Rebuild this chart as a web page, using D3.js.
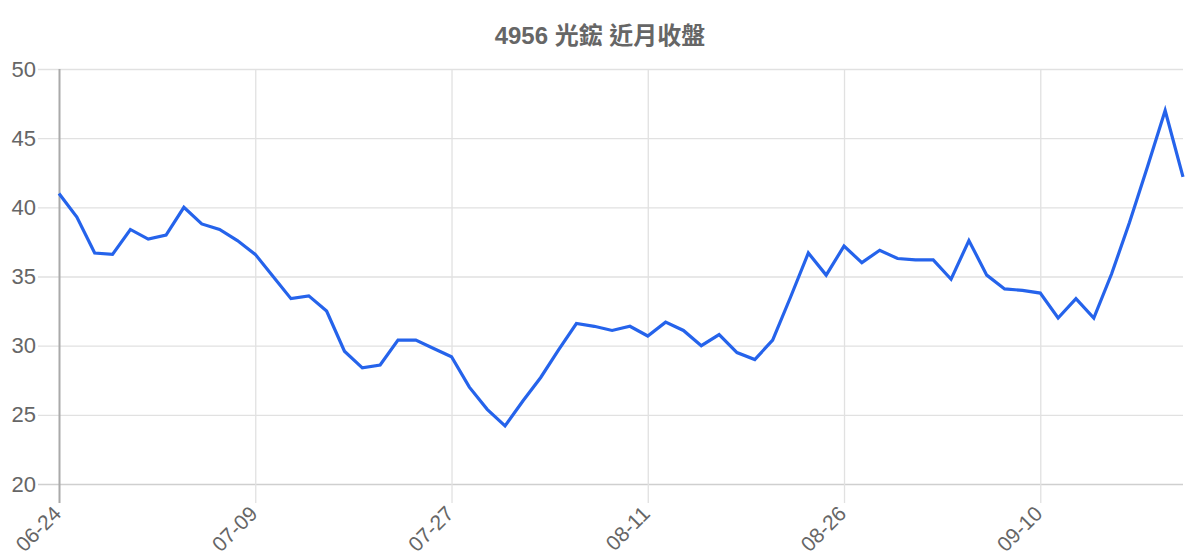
<!DOCTYPE html>
<html>
<head>
<meta charset="utf-8">
<script src="https://cdn.jsdelivr.net/npm/d3@7"></script>
<style>
  body { margin: 0; background: #fff; }
  svg text { font-family: "Liberation Sans", Arial, "Noto Sans CJK TC", sans-serif; fill: #666; }
</style>
</head>
<body>
<div id="chart"></div>
<script>
const width = 1200, height = 560;

// trading days (2021)
const dates = [
  "06-24","06-25","06-28","06-29","06-30","07-01","07-02","07-05","07-06","07-07","07-08",
  "07-09","07-13","07-14","07-15","07-16","07-19","07-20","07-21","07-22","07-23","07-26",
  "07-27","07-28","07-29","07-30","08-02","08-03","08-04","08-05","08-06","08-09","08-10",
  "08-11","08-12","08-13","08-16","08-17","08-18","08-19","08-20","08-23","08-24","08-25",
  "08-26","08-27","08-30","08-31","09-01","09-02","09-03","09-06","09-07","09-08","09-09",
  "09-10","09-13","09-14","09-15","09-16","09-17","09-22","09-23","09-24"
];

// closing prices
const closes = [
  41.0, 39.3, 36.7, 36.6, 38.4, 37.7, 38.0, 40.0, 38.8, 38.4, 37.6,
  36.6, 35.0, 33.4, 33.6, 32.5, 29.6, 28.4, 28.6, 30.4, 30.4, 29.8,
  29.2, 27.0, 25.4, 24.2, 26.0, 27.7, 29.7, 31.6, 31.4, 31.1, 31.4,
  30.7, 31.7, 31.1, 30.0, 30.8, 29.5, 29.0, 30.4, 33.5, 36.7, 35.1,
  37.2, 36.0, 36.9, 36.3, 36.2, 36.2, 34.8, 37.6, 35.1, 34.1, 34.0,
  33.8, 32.0, 33.4, 32.0, 35.2, 38.9, 42.9, 47.0, 42.2
];

const yTicks = [20, 25, 30, 35, 40, 45, 50];
const xTickLabels = ["06-24", "07-09", "07-27", "08-11", "08-26", "09-10"];

const margin = { top: 69, right: 17, bottom: 76, left: 59 };

const svg = d3.select("#chart")
  .append("svg")
  .attr("width", width)
  .attr("height", height);

const x = d3.scalePoint()
  .domain(dates)
  .range([margin.left, width - margin.right]);

const y = d3.scaleLinear()
  .domain([20, 50])
  .range([height - margin.bottom, margin.top]);

// title
svg.append("text")
  .attr("x", 600)
  .attr("y", 44)
  .attr("text-anchor", "middle")
  .style("font-size", "24px")
  .style("font-weight", "bold")
  .text("4956 光鋐 近月收盤");

// horizontal grid + y labels
const yAxis = svg.append("g")
  .attr("transform", `translate(${margin.left},0)`)
  .call(d3.axisLeft(y)
    .tickValues(yTicks)
    .tickSize(-(width - margin.left - margin.right)));
yAxis.select(".domain").remove();
yAxis.selectAll(".tick line")
  .attr("x1", -21)
  .attr("stroke", "#e1e1e1")
  .attr("stroke-width", 1.3);
yAxis.selectAll(".tick")
  .filter(d => d === 20)
  .select("line")
  .attr("stroke", "#cfcfcf");
yAxis.selectAll(".tick text")
  .attr("x", -23)
  .style("font-size", "22px")
  .attr("fill", "#666");

// vertical grid + x labels
const xAxis = svg.append("g")
  .attr("transform", `translate(0,${height - margin.bottom})`)
  .call(d3.axisBottom(x)
    .tickValues(xTickLabels)
    .tickSize(-(height - margin.top - margin.bottom)));
xAxis.select(".domain").remove();
xAxis.selectAll(".tick line")
  .attr("y1", 19)
  .attr("stroke", (d, i) => i === 0 ? "#aaa" : "#e1e1e1")
  .attr("stroke-width", (d, i) => i === 0 ? 2 : 1.3);
xAxis.selectAll(".tick text")
  .attr("text-anchor", "end")
  .attr("dy", null)
  .attr("transform", "translate(3,31) rotate(-45)")
  .attr("y", 0)
  .attr("x", 0)
  .style("font-size", "21px")
  .attr("fill", "#666");

// price line
const line = d3.line()
  .x((d, i) => x(dates[i]))
  .y(d => y(d));

svg.append("path")
  .datum(closes)
  .attr("fill", "none")
  .attr("stroke", "#2563eb")
  .attr("stroke-width", 3.2)
  .attr("stroke-linejoin", "miter")
  .attr("d", line);
</script>
</body>
</html>
